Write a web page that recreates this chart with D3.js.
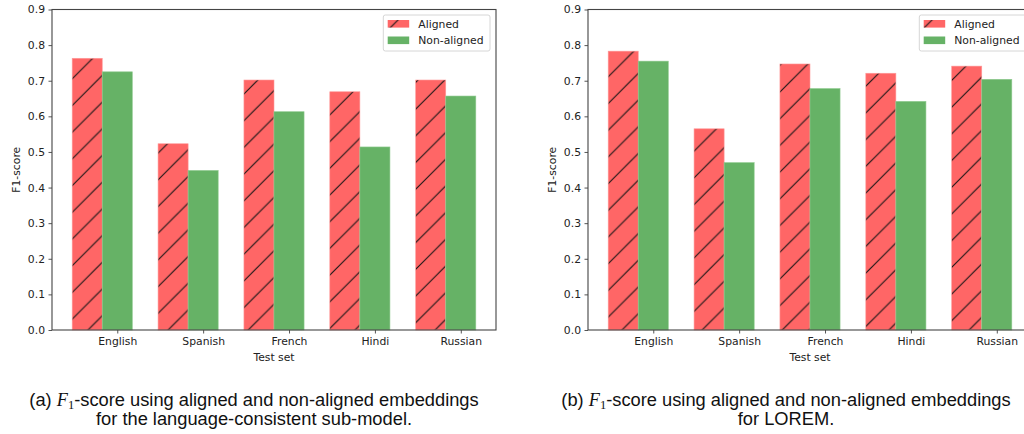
<!DOCTYPE html>
<html>
<head>
<meta charset="utf-8">
<script src="https://cdn.jsdelivr.net/npm/d3@7/dist/d3.min.js"></script>
<style>
  html, body { margin: 0; padding: 0; background: #fff; }
  svg { display: block; }
</style>
</head>
<body>
<svg id="chart" width="1024" height="434"></svg>
<script>
// ---- data ----
const categories = ["English", "Spanish", "French", "Hindi", "Russian"];
const seriesNames = ["Aligned", "Non-aligned"];
const alignedA = [0.763, 0.523, 0.702, 0.669, 0.702];
const nonAlignedA = [0.725, 0.448, 0.613, 0.514, 0.657];
const alignedB = [0.783, 0.565, 0.747, 0.721, 0.741];
const nonAlignedB = [0.755, 0.470, 0.678, 0.642, 0.704];
const yTicks = [0.0, 0.1, 0.2, 0.3, 0.4, 0.5, 0.6, 0.7, 0.8, 0.9];
const xLabel = "Test set";
const yLabel = "F1-score";
const captionA = ["(a) ", "-score using aligned and non-aligned embeddings", "for the language-consistent sub-model."];
const captionB = ["(b) ", "-score using aligned and non-aligned embeddings", "for LOREM."];

const svg = d3.select("#chart");
const FONT = "DejaVu Sans, sans-serif";
const FS = 10.8;
const red = "#ff6666", green = "#66b266";
const barW = 0.35;

// hatch pattern in absolute user space
const P = 26.7;
const defs = svg.append("defs");
const pat = defs.append("pattern")
  .attr("id", "hatch")
  .attr("patternUnits", "userSpaceOnUse")
  .attr("x", 17.5).attr("y", 0)
  .attr("width", P).attr("height", P);
pat.append("rect").attr("width", P).attr("height", P).attr("fill", red);
[[-1, P + 1, P + 1, -1], [-1, 1, 1, -1], [P - 1, P + 1, P + 1, P - 1]].forEach(l => {
  pat.append("line")
    .attr("x1", l[0]).attr("y1", l[1]).attr("x2", l[2]).attr("y2", l[3])
    .attr("stroke", "#151515").attr("stroke-width", 1.1);
});

function panel(left, aligned, nonAligned, caption, capCenter) {
  const right = left + 444, top = 9.5, bottom = 330;
  const x = d3.scaleLinear().domain([-0.41, 4.76]).range([left, right]);
  const y = d3.scaleLinear().domain([0, 0.9]).range([bottom, top]);

  // bars
  svg.append("g").selectAll("rect").data(aligned).join("rect")
    .attr("x", (d, i) => x(i - barW / 2))
    .attr("width", x(barW) - x(0))
    .attr("y", d => y(d))
    .attr("height", d => y(0) - y(d))
    .attr("fill", "url(#hatch)")
    .attr("stroke", "#ff9999").attr("stroke-width", 0.6);
  svg.append("g").selectAll("rect").data(nonAligned).join("rect")
    .attr("x", (d, i) => x(i + barW / 2))
    .attr("width", x(barW) - x(0))
    .attr("y", d => y(d))
    .attr("height", d => y(0) - y(d))
    .attr("fill", green)
    .attr("stroke", "#8fca8f").attr("stroke-width", 0.6);

  // y axis
  const ya = svg.append("g").attr("transform", `translate(${left},0)`)
    .call(d3.axisLeft(y).tickValues(yTicks).tickFormat(d3.format(".1f")).tickSize(3.5).tickPadding(3.5));
  // x axis
  const xa = svg.append("g").attr("transform", `translate(0,${bottom})`)
    .call(d3.axisBottom(x).tickValues(categories.map((c, i) => i + barW)).tickFormat((d, i) => categories[i]).tickSize(3.5).tickPadding(4));
  [ya, xa].forEach(a => {
    a.select(".domain").remove();
    a.selectAll(".tick line").attr("stroke", "#555").attr("stroke-width", 1);
    a.selectAll(".tick text").attr("fill", "#222").style("font-family", FONT).style("font-size", FS + "px");
  });

  // spines
  svg.append("rect").attr("x", left).attr("y", top).attr("width", right - left).attr("height", bottom - top)
    .attr("fill", "none").attr("stroke", "#444").attr("stroke-width", 1.1);

  // axis labels
  svg.append("text").attr("x", (left + right) / 2).attr("y", 361)
    .attr("text-anchor", "middle").attr("fill", "#222")
    .style("font-family", FONT).style("font-size", FS + "px").text(xLabel);
  svg.append("text").attr("transform", `translate(${left - 32},${(top + bottom) / 2 + 0}) rotate(-90)`)
    .attr("text-anchor", "middle").attr("fill", "#222")
    .style("font-family", FONT).style("font-size", FS + "px").text(yLabel);

  // legend
  const lx = right - 112.7, ly = 15;
  svg.append("rect").attr("x", lx).attr("y", ly).attr("width", 106.7).attr("height", 36)
    .attr("rx", 2).attr("fill", "#fff").attr("fill-opacity", 0.85)
    .attr("stroke", "#d6d6d6").attr("stroke-width", 1);
  const items = [{ name: seriesNames[0], fill: "url(#hatch)" }, { name: seriesNames[1], fill: green }];
  items.forEach((it, k) => {
    const cy = ly + 9 + k * 16.5;
    svg.append("rect").attr("x", lx + 4.4).attr("y", cy - 4).attr("width", 21.5).attr("height", 7.6)
      .attr("fill", it.fill);
    svg.append("text").attr("x", lx + 35).attr("y", cy + 3.9).attr("fill", "#222")
      .style("font-family", FONT).style("font-size", FS + "px").text(it.name);
  });

  // caption
  const c1 = svg.append("text").attr("x", capCenter).attr("y", 406).attr("text-anchor", "middle")
    .attr("fill", "#111").style("font-family", "Liberation Sans, Arial, sans-serif").style("font-size", "18.3px");
  c1.append("tspan").text(caption[0]);
  c1.append("tspan").style("font-family", "Liberation Serif, serif").style("font-style", "italic").text("F");
  c1.append("tspan").attr("dy", 3).style("font-family", "Liberation Serif, serif").style("font-size", "12.5px").text("1");
  c1.append("tspan").attr("dy", -3).text(caption[1]);
  svg.append("text").attr("x", capCenter).attr("y", 425).attr("text-anchor", "middle")
    .attr("fill", "#111").style("font-family", "Liberation Sans, Arial, sans-serif").style("font-size", "18.3px")
    .text(caption[2]);
}

panel(52, alignedA, nonAlignedA, captionA, 254);
panel(588, alignedB, nonAlignedB, captionB, 786);
</script>
</body>
</html>
